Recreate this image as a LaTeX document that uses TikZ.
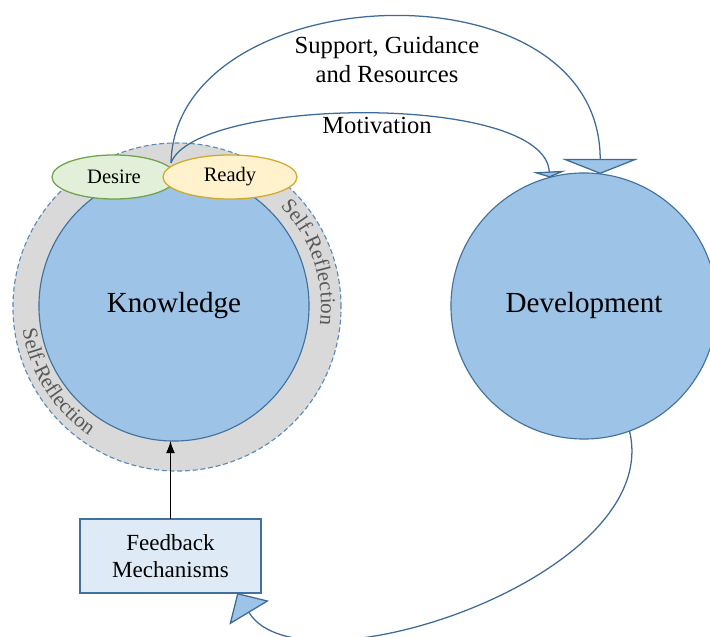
\documentclass[tikz,border=0pt]{standalone}
\usepackage{fontspec}
\setmainfont{Liberation Serif}
\usetikzlibrary{arrows.meta,shapes.geometric,decorations.text}

\definecolor{circfill}{HTML}{9DC3E6}
\definecolor{circline}{HTML}{41719C}
\definecolor{ringfill}{HTML}{D9D9D9}
\definecolor{ringline}{HTML}{5A8AB8}
\definecolor{desfill}{HTML}{E2F0D9}
\definecolor{desline}{HTML}{6FA24A}
\definecolor{rdyfill}{HTML}{FFF2CC}
\definecolor{rdyline}{HTML}{D2A92E}
\definecolor{boxfill}{HTML}{DEEBF7}
\definecolor{flowline}{HTML}{3D6B98}
\definecolor{refltext}{HTML}{595959}

\tikzstyle{bigc} = [circle, draw=circline, fill=circfill, line width=0.8pt,
    inner sep=0pt, outer sep=0pt, font=\fontsize{20.7}{24}\selectfont]
\tikzstyle{oval} = [ellipse, line width=0.9pt, inner sep=0pt, outer sep=0pt,
    minimum height=1.1cm, font=\fontsize{14.6}{17}\selectfont]
\tikzstyle{fbbox} = [rectangle, draw=circline, fill=boxfill, line width=0.9pt,
    minimum width=4.525cm, minimum height=1.85cm, outer sep=0pt,
    align=center, font=\fontsize{16.4}{19.2}\selectfont]
\tikzstyle{flow} = [draw=flowline, line width=0.9pt]
\tikzstyle{lbl} = [align=center, font=\fontsize{17.5}{20.6}\selectfont]
\tikzstyle{refl} = [decorate, decoration={text along path, text align=center,
    text={|\color{refltext}\fontsize{15}{18}\selectfont|Self-Reflection}}]

\begin{document}
\begin{tikzpicture}[x=0.025cm,y=0.025cm]
  \useasboundingbox (0,0) rectangle (710,637);

  % ring with the self-reflection text
  \node[circle, draw=ringline, fill=ringfill, line width=0.8pt,
        dash pattern=on 3.5pt off 2pt, minimum size=8.2cm] (ring) at (177,330) {};
  \path[refl] (ring.center) ++(60:144) arc (60:-23:144);
  \path[refl] (ring.center) ++(170:156) arc (170:254:156);

  \node[bigc, minimum size=6.75cm] (know) at (174,331) {Knowledge};
  \node[bigc, minimum size=6.65cm] (dev)  at (584,331) {Development};

  \node[oval, draw=desline, fill=desfill, minimum width=3.1cm]  (des) at (114,460) {Desire};
  \node[oval, draw=rdyline, fill=rdyfill, minimum width=3.35cm] (rdy) at (230,460) {Ready};
  \coordinate (src) at (171,474);

  \node[fbbox] (fb) at (170.5,81) {Feedback\\Mechanisms};

  \node[lbl] (sgr) at (387,577) {Support, Guidance\\and Resources};
  \node[lbl] (mot) at (377,512) {Motivation};

  \draw[flow, -{Triangle[width=1.9cm, length=0.375cm, fill=circfill]}]
    (src) .. controls (175,660) and (600,680) .. (dev.83);
  \draw[flow, -{Triangle[width=0.825cm, length=0.15cm, fill=circfill]}]
    (src) .. controls (195,540) and (545,545) .. (dev.105);
  \draw[flow, -{Triangle[width=1.15cm, length=0.575cm, fill=circfill]}]
    (dev.-70) .. controls (665,60) and (300,-60) .. (fb.-29.5);

  \path (fb.north) edge[-{Latex[length=0.3cm, width=0.22cm]}, line width=0.7pt]
    (fb.north |- know.south);
\end{tikzpicture}
\end{document}
